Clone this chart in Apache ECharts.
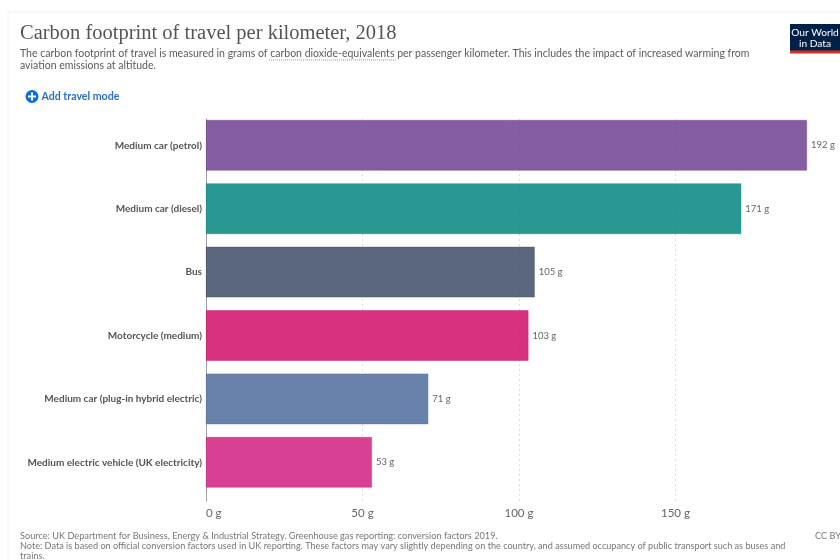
<!DOCTYPE html>
<html>
<head>
<meta charset="utf-8">
<style>html,body{margin:0;padding:0;background:#fff}#chart{width:840px;height:560px}</style>
<script src="https://cdn.jsdelivr.net/npm/echarts@6/dist/echarts.min.js"></script>
</head>
<body>
<div id="chart"></div>
<script>
// Travel modes, top row first, with grams of CO2-equivalent per passenger km
const modes = ['Medium car (petrol)', 'Medium car (diesel)', 'Bus', 'Motorcycle (medium)',
  'Medium car (plug-in hybrid electric)', 'Medium electric vehicle (UK electricity)'];
const gramsPerKm = [192, 171, 105, 103, 71, 53];
const barColors = ['#6d3e91', '#00847e', '#3a4a65', '#cf0a66', '#4c6a9c', '#d01b7f'];
const xTicks = [0, 50, 100, 150];
const xMax = 200;

const titleText = 'Carbon footprint of travel per kilometer, 2018';
const subtitleLines = [
  'The carbon footprint of travel is measured in grams of carbon dioxide-equivalents per passenger kilometer. This includes the impact of increased warming from',
  'aviation emissions at altitude.'
];
const footerLines = [
  'Source: UK Department for Business, Energy & Industrial Strategy. Greenhouse gas reporting: conversion factors 2019.',
  'Note: Data is based on official conversion factors used in UK reporting. These factors may vary slightly depending on the country, and assumed occupancy of public transport such as buses and',
  'trains.'
];

const sans = 'Lato, "Noto Sans", sans-serif';
const grey = '#5b5b5b';

function text(x, y, str, size, fill, extra) {
  return { type: 'text', x, y, silent: true, style: Object.assign({
    text: str, fontFamily: sans, fontSize: size, fill, textVerticalAlign: 'middle'
  }, extra || {}) };
}

const chart = echarts.init(document.getElementById('chart'), null, { renderer: 'canvas' });

chart.setOption({
  animation: false,
  backgroundColor: '#ffffff',
  // First grid carries the ruled frame and tick labels, second one the bars
  grid: [
    { left: 206, top: 119, width: 626, height: 382 },
    { left: 206, top: 113.6, width: 626, height: 380.4 }
  ],
  xAxis: [
    {
      gridIndex: 0, type: 'value', min: 0, max: xMax, interval: 50,
      axisLine: { show: false }, axisTick: { show: false, customValues: xTicks },
      axisLabel: {
        customValues: xTicks, formatter: '{value} g', color: '#666666',
        fontFamily: sans, fontSize: 11.5, margin: 6, alignMinLabel: 'left'
      },
      splitLine: { show: true, showMinLine: false, lineStyle: { color: '#dcdcdc', type: [2, 3], width: 1 } }
    },
    {
      gridIndex: 1, type: 'value', min: 0, max: xMax,
      axisLine: { show: false }, axisTick: { show: false },
      axisLabel: { show: false }, splitLine: { show: false }
    }
  ],
  yAxis: [
    {
      gridIndex: 0, type: 'value', min: 0, max: 1,
      axisLine: { show: true, onZero: false, lineStyle: { color: '#a0a0a0', width: 1 } },
      axisTick: { show: false }, axisLabel: { show: false }, splitLine: { show: false }
    },
    {
      gridIndex: 1, type: 'category', inverse: true, data: modes,
      axisLine: { show: false }, axisTick: { show: false }, splitLine: { show: false },
      axisLabel: { color: '#555555', fontFamily: sans, fontSize: 10, fontWeight: 'bold', margin: 4, padding: [0, 0, 2, 0] }
    }
  ],
  series: [{
    type: 'bar', xAxisIndex: 1, yAxisIndex: 1, barWidth: 50.5, z: 3,
    data: gramsPerKm.map((v, i) => ({
      value: v,
      itemStyle: { color: barColors[i], opacity: 0.84, borderColor: barColors[i], borderWidth: 0.5 }
    })),
    label: {
      show: true, position: 'right', distance: 4, formatter: '{c} g',
      color: '#666666', fontFamily: sans, fontSize: 9.5, opacity: 1
    }
  }],
  graphic: { elements: [
    // Card outline
    { type: 'line', silent: true, shape: { x1: 8, y1: 12, x2: 840, y2: 12 }, style: { stroke: '#f2f2f2', lineWidth: 1 } },
    { type: 'line', silent: true, shape: { x1: 8, y1: 12, x2: 8, y2: 560 }, style: { stroke: '#f2f2f2', lineWidth: 1 } },

    text(20, 34, titleText, 20.5, '#555555', { fontFamily: '"Liberation Serif", serif' }),
    text(20, 53.5, subtitleLines[0], 10.53, grey),
    text(20, 66, subtitleLines[1], 10.53, grey),
    { type: 'line', silent: true, shape: { x1: 269, y1: 60, x2: 396, y2: 60 },
      style: { stroke: '#999999', lineWidth: 1, lineDash: [1, 1] } },

    // Add-mode button
    { type: 'circle', silent: true, shape: { cx: 32, cy: 96.5, r: 6.5 }, style: { fill: '#0a6fd8' } },
    { type: 'rect', silent: true, shape: { x: 28, y: 95.5, width: 8, height: 2 }, style: { fill: '#ffffff' } },
    { type: 'rect', silent: true, shape: { x: 31, y: 92.5, width: 2, height: 8 }, style: { fill: '#ffffff' } },
    text(41.5, 96.5, 'Add travel mode', 10.6, '#2b6fc4', { fontWeight: 'bold' }),

    // Publisher mark
    { type: 'rect', silent: true, shape: { x: 790, y: 24, width: 50, height: 27 }, style: { fill: '#002147' } },
    { type: 'rect', silent: true, shape: { x: 790, y: 50.5, width: 50, height: 3 }, style: { fill: '#dc2e1f' } },
    text(815, 33, 'Our World', 10.2, '#ffffff', { textAlign: 'center' }),
    text(815, 44, 'in Data', 10.2, '#ffffff', { textAlign: 'center' }),

    text(20, 536, footerLines[0], 9.2, '#777777'),
    text(20, 546.5, footerLines[1], 9.15, '#777777'),
    text(20, 556.5, footerLines[2], 9.2, '#777777'),
    text(815, 536, 'CC BY', 9.2, '#777777')
  ] }
});
</script>
</body>
</html>
